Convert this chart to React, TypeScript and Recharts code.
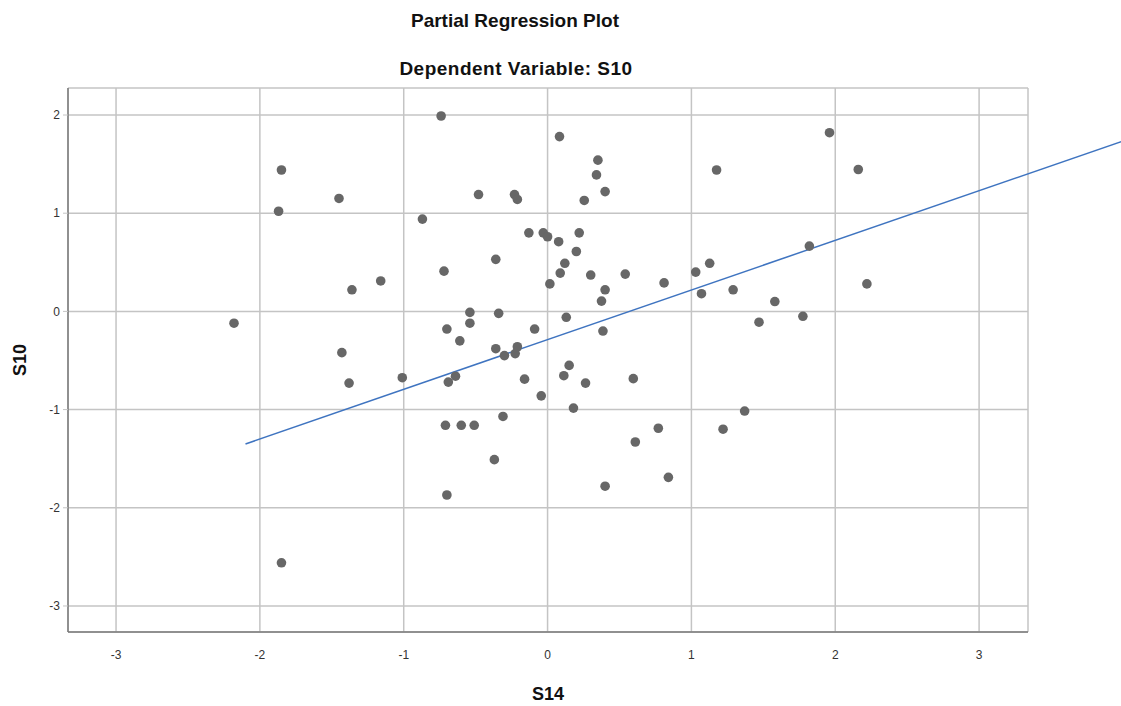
import React from "react";
import {
  ScatterChart, Scatter, XAxis, YAxis, CartesianGrid, ReferenceLine,
} from "recharts";

// partial residuals
const s14 = [
  -2.18, -1.85, -1.87, -1.85, -1.45, -1.43, -1.38, -1.36, -1.16, -1.01,
  -0.87, -0.74, -0.72, -0.70, -0.69, -0.71, -0.70, -0.64, -0.61, -0.60,
  -0.54, -0.54, -0.51, -0.48, -0.36, -0.36, -0.34, -0.37, -0.31, -0.30,
  -0.225, -0.21, -0.23, -0.21, -0.16, -0.13, -0.09, -0.044, -0.03, 0.0,
  0.016, 0.077, 0.083, 0.088, 0.113, 0.12, 0.13, 0.15, 0.18, 0.2,
  0.22, 0.255, 0.264, 0.3, 0.34, 0.35, 0.375, 0.385, 0.4, 0.4,
  0.4, 0.54, 0.596, 0.61, 0.77, 0.81, 0.84, 1.03, 1.07, 1.127,
  1.175, 1.22, 1.29, 1.37, 1.47, 1.58, 1.775, 1.82, 1.96, 2.16,
  2.22,
];
const s10 = [
  -0.12, 1.44, 1.02, -2.56, 1.15, -0.42, -0.73, 0.22, 0.31, -0.675,
  0.94, 1.99, 0.41, -0.18, -0.72, -1.16, -1.87, -0.66, -0.3, -1.16,
  -0.01, -0.12, -1.16, 1.19, 0.53, -0.38, -0.02, -1.51, -1.07, -0.45,
  -0.43, -0.36, 1.19, 1.14, -0.69, 0.8, -0.18, -0.86, 0.8, 0.76,
  0.28, 0.71, 1.78, 0.39, -0.655, 0.49, -0.06, -0.55, -0.985, 0.61,
  0.8, 1.13, -0.73, 0.37, 1.39, 1.54, 0.105, -0.2, 1.22, 0.22,
  -1.78, 0.38, -0.685, -1.33, -1.19, 0.29, -1.69, 0.4, 0.18, 0.49,
  1.44, -1.2, 0.22, -1.015, -0.11, 0.1, -0.05, 0.665, 1.82, 1.445,
  0.28,
];

// fit line end points
const fitX = [-2.1, 3.99];
const fitY = [-1.35, 1.73];

const xTicks = [-3, -2, -1, 0, 1, 2, 3];
const yTicks = [-3, -2, -1, 0, 1, 2];

const points = s14.map((x, i) => ({ x, y: s10[i] }));

const font = "'Liberation Sans', Arial, sans-serif";

export default function App() {
  return (
    <div style={{ position: "absolute", left: 0, top: 0, width: 1121, height: 706, background: "#fff", fontFamily: font }}>
      <div style={{ position: "absolute", left: 0, top: 10, width: 1030, textAlign: "center", fontWeight: "bold", fontSize: 19, color: "#111" }}>
        Partial Regression Plot
      </div>
      <div style={{ position: "absolute", left: 0, top: 58, width: 1032, textAlign: "center", fontWeight: "bold", fontSize: 19, letterSpacing: 0.5, color: "#111" }}>
        Dependent Variable: S10
      </div>
      <ScatterChart width={1121} height={706} margin={{ top: 88, right: 93, bottom: 0, left: 0 }}>
        <CartesianGrid stroke="#c4c4c4" strokeWidth={1.5} />
        <XAxis
          type="number"
          dataKey="x"
          domain={[-3.334, 3.34]}
          ticks={xTicks}
          allowDataOverflow
          height={74}
          tickLine={false}
          tickMargin={12}
          axisLine={{ stroke: "#7a7a7a", strokeWidth: 1.5 }}
          tick={{ fill: "#333", fontSize: 12, fontFamily: font }}
          label={{ value: "S14", position: "insideBottom", offset: 6, fill: "#111", fontSize: 18, fontWeight: "bold", fontFamily: font }}
        />
        <YAxis
          type="number"
          dataKey="y"
          domain={[-3.265, 2.275]}
          ticks={yTicks}
          allowDataOverflow
          width={68}
          tickSize={5}
          tickMargin={3}
          tickLine={{ stroke: "#c4c4c4" }}
          axisLine={{ stroke: "#7a7a7a", strokeWidth: 1.5 }}
          tick={{ fill: "#333", fontSize: 12, fontFamily: font }}
          label={{ value: "S10", angle: -90, position: "insideLeft", offset: 20, fill: "#111", fontSize: 18, fontWeight: "bold", fontFamily: font, style: { textAnchor: "middle" } }}
        />
        <ReferenceLine
          segment={[{ x: fitX[0], y: fitY[0] }, { x: fitX[1], y: fitY[1] }]}
          stroke="#3f74c0"
          strokeWidth={1.5}
          ifOverflow="visible"
        />
        <Scatter data={points} fill="#676767" isAnimationActive={false} shape={(p: any) => <circle cx={p.cx} cy={p.cy} r={4.8} fill="#676767" />} />
      </ScatterChart>
    </div>
  );
}
